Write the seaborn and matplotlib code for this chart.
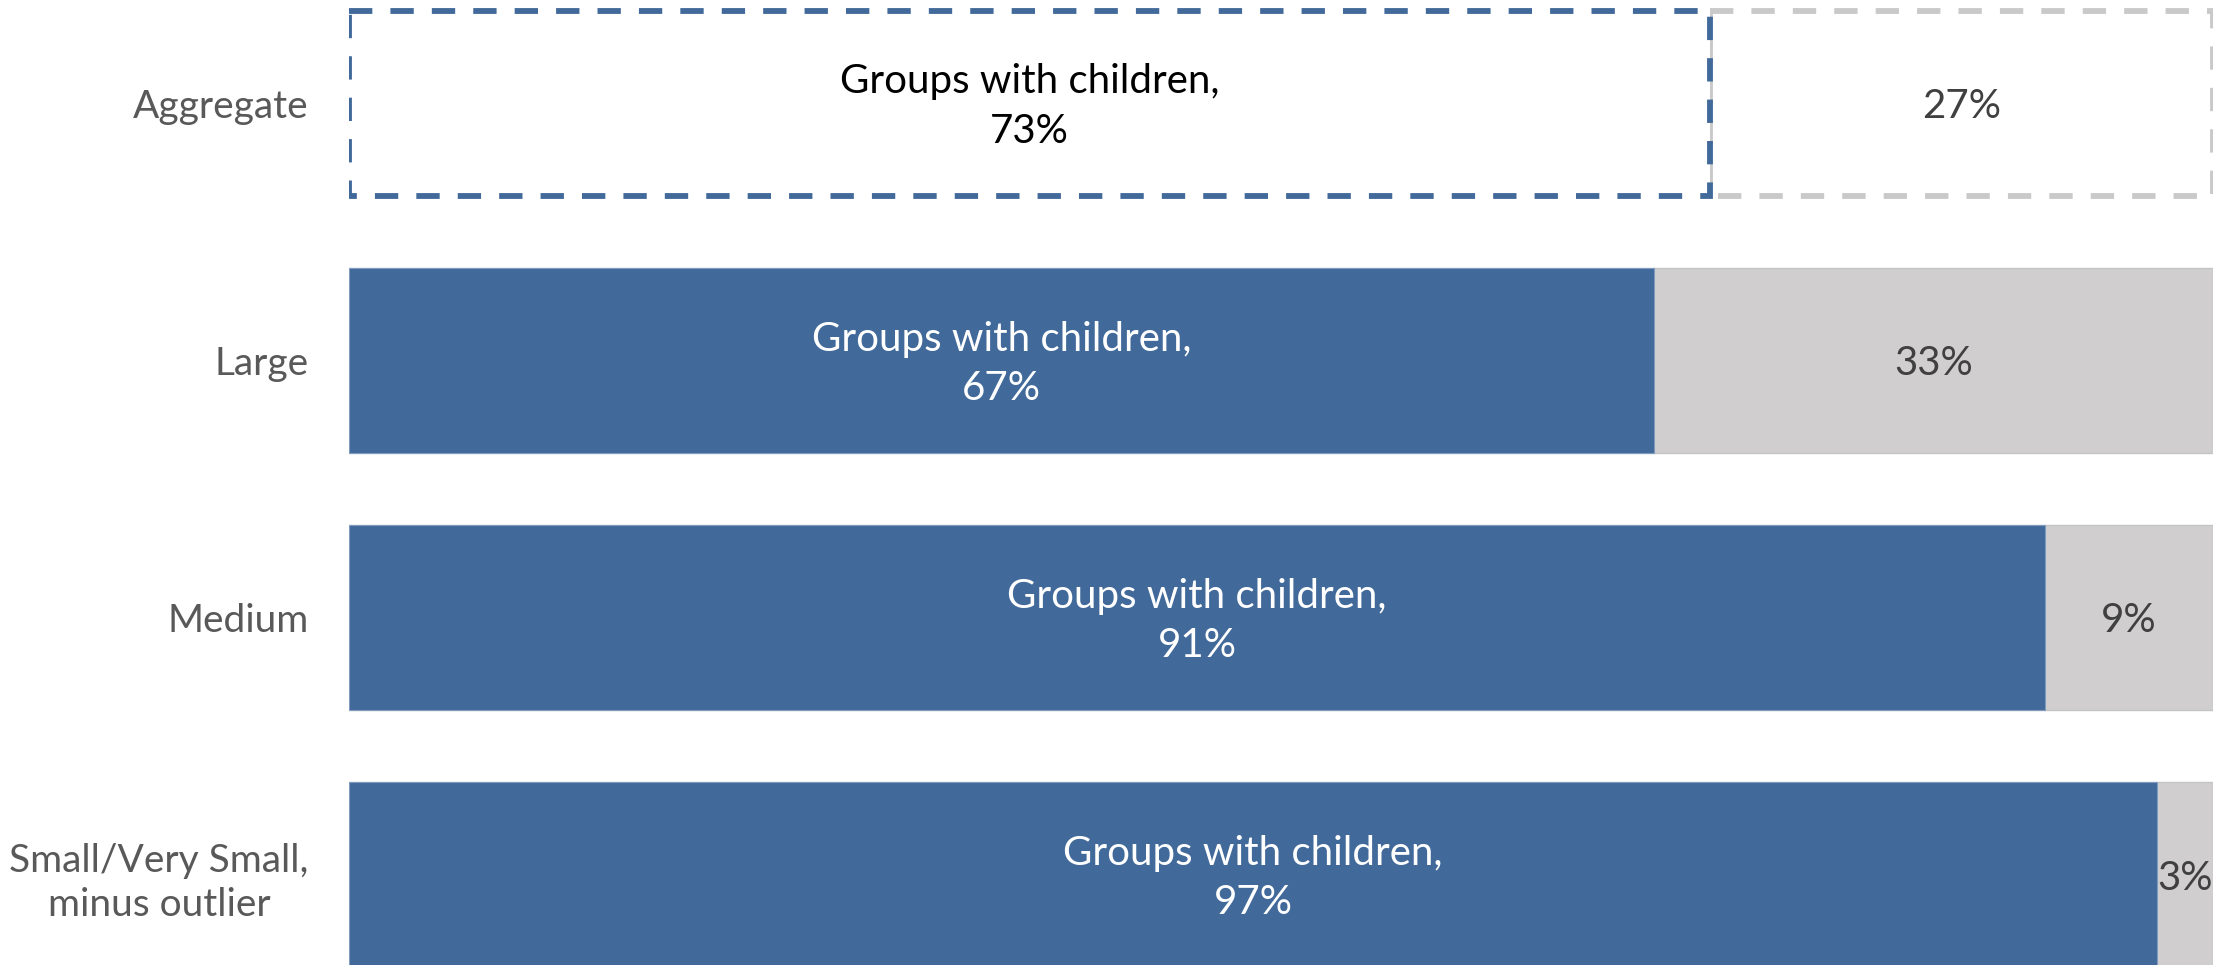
import matplotlib
matplotlib.use("Agg")
import matplotlib.pyplot as plt
import seaborn as sns
import pandas as pd

categories = ["Aggregate", "Large", "Medium", "Small/Very Small,\nminus outlier"]
with_children = [0.73, 0.70, 0.91, 0.97]
without_children = [0.27, 0.30, 0.09, 0.03]
with_labels = ["73%", "67%", "91%", "97%"]
without_labels = ["27%", "33%", "9%", "3%"]
series_name = "Groups with children"

BLUE = "#41699A"
GRAY = "#D0CECF"
GRAY_DASH = "#C9C9C9"

sns.set_theme(style="white")
plt.rcParams["font.family"] = ["Lato", "DejaVu Sans"]

df = pd.DataFrame({
    "category": categories,
    "with": with_children,
    "without": without_children,
})
df["total"] = df["with"] + df["without"]

fig = plt.figure(figsize=(22.25, 9.65), dpi=100)
ax = fig.add_axes([349 / 2225, 0.0, (2213 - 349) / 2225, 1.0])

sns.barplot(data=df, y="category", x="total", color=GRAY, orient="h",
            width=0.72, ax=ax, edgecolor="#C4C4C4", linewidth=1.0, saturation=1)
n = len(categories)
gray_patches = list(ax.patches)
sns.barplot(data=df, y="category", x="with", color=BLUE, orient="h",
            width=0.72, ax=ax, edgecolor="#7F9CC0", linewidth=0.8, saturation=1)
blue_patches = list(ax.patches)[n:]

# Aggregate row: outlined, dashed, white fill
gp = gray_patches[0]
gp.set_x(df["with"][0])
gp.set_width(df["without"][0])
gp.set_facecolor("white")
gp.set_edgecolor(GRAY_DASH)
gp.set_linewidth(4.2)
gp.set_linestyle((0, (4, 3.1)))
gp.set_zorder(2)
bp = blue_patches[0]
bp.set_facecolor("white")
bp.set_edgecolor(BLUE)
bp.set_linewidth(4.2)
bp.set_linestyle((0, (4, 3.1)))
bp.set_zorder(3)

for i in range(n):
    w = df["with"][i]
    wo = df["without"][i]
    tcolor = "black" if i == 0 else "white"
    ax.text(w / 2, i + 0.012, f"{series_name},\n{with_labels[i]}", ha="center", va="center",
            fontsize=29, color=tcolor, linespacing=1.42, zorder=5)
    ax.text(w + wo / 2, i + 0.012, without_labels[i], ha="center", va="center",
            fontsize=29, color="#404040", zorder=5)

ax.set_xlim(0, 1.0)
ax.set_ylim(3.35, -0.403)
ax.set_xlabel("")
ax.set_ylabel("")
ax.set_xticks([])
ax.tick_params(axis="y", length=0, pad=29, labelsize=28, labelcolor="#595959")
for lbl in ax.get_yticklabels():
    lbl.set_horizontalalignment("right")
    lbl.set_multialignment("center")
    lbl.set_linespacing(1.3)
for s in ax.spines.values():
    s.set_visible(False)

fig.savefig("out.png", dpi=100)
